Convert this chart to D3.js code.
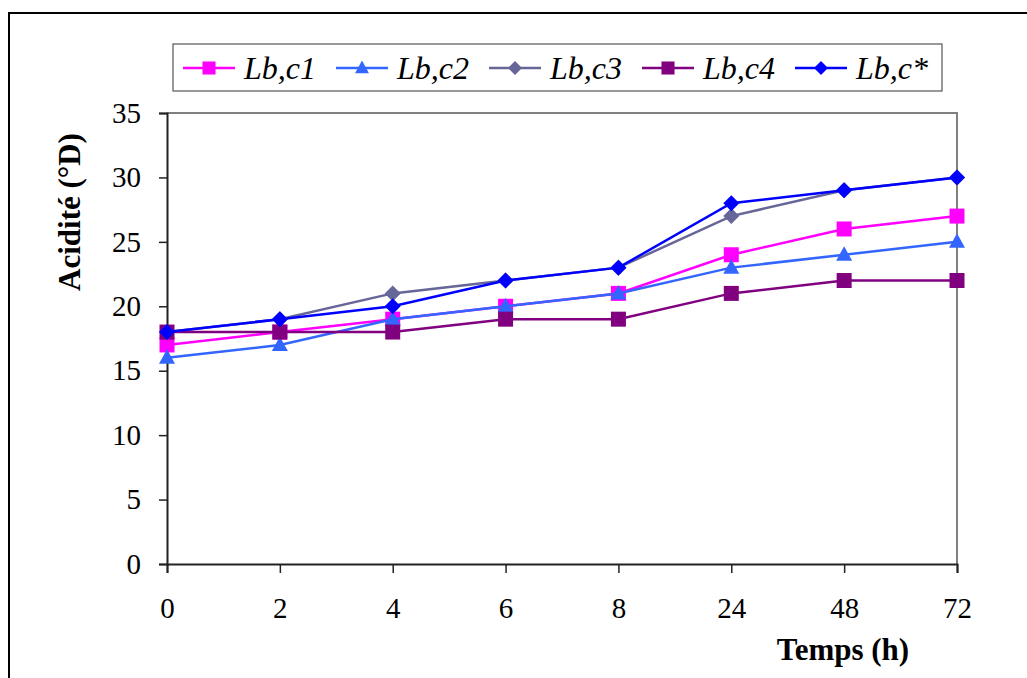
<!DOCTYPE html>
<html><head><meta charset="utf-8">
<script src="https://cdn.jsdelivr.net/npm/d3@7"></script>
<style>body{margin:0;background:#fff;}svg{display:block;} text{font-family:"Liberation Serif","DejaVu Serif";}</style>
</head><body>
<svg id="chart" width="1027" height="678"></svg>
<script>
const categories = ["0","2","4","6","8","24","48","72"];
const yTicks = [0,5,10,15,20,25,30,35];
const seriesNames = ["Lb,c1","Lb,c2","Lb,c3","Lb,c4","Lb,c*"];
const c1 = [17,18,19,20,21,24,26,27];
const c2 = [16,17,19,20,21,23,24,25];
const c3 = [18,19,21,22,23,27,29,30];
const c4 = [18,18,18,19,19,21,22,22];
const cStar = [18,19,20,22,23,28,29,30];
const colors = ["#FF00FF","#3366FF","#666699","#800080","#0000FF"];
const markers = ["square","triangle","diamond","square","diamond"];
const xTitle = "Temps (h)";
const yTitle = "Acidité (°D)";

const series = [c1,c2,c3,c4,cStar].map((v,i)=>({name:seriesNames[i],values:v,color:colors[i],marker:markers[i]}));

const svg = d3.select("#chart");
const L=167,R=957,T=113,B=564;
const x = d3.scalePoint().domain(categories).range([L,R]).padding(0);
const y = d3.scaleLinear().domain([0,35]).range([B,T]);

// outer frame
svg.append("rect").attr("x",9).attr("y",13).attr("width",1040).attr("height",700)
  .attr("fill","none").attr("stroke","#000").attr("stroke-width",2);

// plot frame (gray top/right)
svg.append("path").attr("d",`M${L},${T}H${R}V${B}`).attr("fill","none").attr("stroke","#808080").attr("stroke-width",2);

// axes
const yAxis = d3.axisLeft(y).tickValues(yTicks).tickSize(8).tickPadding(18);
const gy = svg.append("g").attr("transform",`translate(${L},0)`).call(yAxis);
gy.attr("font-family",null);
gy.select(".domain").attr("stroke","#222").attr("stroke-width",2);
gy.selectAll(".tick line").attr("stroke","#222").attr("stroke-width",1.5);
gy.selectAll("text").attr("font-size",29).attr("fill","#000");

const xAxis = d3.axisBottom(x).tickSize(9).tickPadding(24);
const gx = svg.append("g").attr("transform",`translate(0,${B})`).call(xAxis);
gx.attr("font-family",null);
gx.select(".domain").attr("stroke","#222").attr("stroke-width",2);
gx.selectAll(".tick line").attr("stroke","#222").attr("stroke-width",1.5);
gx.selectAll("text").attr("font-size",29).attr("fill","#000");

// titles
svg.append("text").attr("x",843).attr("y",660).attr("text-anchor","middle")
  .attr("font-weight","bold").attr("font-size",31).text(xTitle);
svg.append("text").attr("transform","translate(80,212) rotate(-90)").attr("text-anchor","middle")
  .attr("font-weight","bold").attr("font-size",31).text(yTitle);

function markerPath(type, k){
  if(type==="square") return `M${-7.5*k},${-7.5*k}h${15*k}v${15*k}h${-15*k}Z`;
  if(type==="triangle") return `M0,${-8.5*k}L${8*k},${6*k}L${-8*k},${6*k}Z`;
  return `M0,${-8*k}L${8*k},0L0,${8*k}L${-8*k},0Z`;
}

const line = d3.line().x((d,i)=>x(categories[i])).y(d=>y(d));
series.forEach(s=>{
  svg.append("path").datum(s.values).attr("d",line).attr("fill","none")
    .attr("stroke",s.color).attr("stroke-width",2.5);
  svg.append("g").selectAll("path").data(s.values).join("path")
    .attr("d",markerPath(s.marker,1))
    .attr("transform",(d,i)=>`translate(${x(categories[i])},${y(d)})`)
    .attr("fill",s.color);
});

// legend
svg.append("rect").attr("x",173).attr("y",44).attr("width",769).attr("height",47)
  .attr("fill","#fff").attr("stroke","#555").attr("stroke-width",1.2);
const lg = svg.append("g");
series.forEach((s,i)=>{
  const x0 = 183 + i*153;
  const cy = 68;
  lg.append("line").attr("x1",x0).attr("x2",x0+52).attr("y1",cy).attr("y2",cy)
    .attr("stroke",s.color).attr("stroke-width",2.5);
  lg.append("path").attr("d",markerPath(s.marker,0.87))
    .attr("transform",`translate(${x0+26},${cy})`).attr("fill",s.color);
  lg.append("text").attr("x",x0+61).attr("y",79)
    .attr("font-style","italic").attr("font-size",32).text(s.name);
});
</script>
</body></html>
